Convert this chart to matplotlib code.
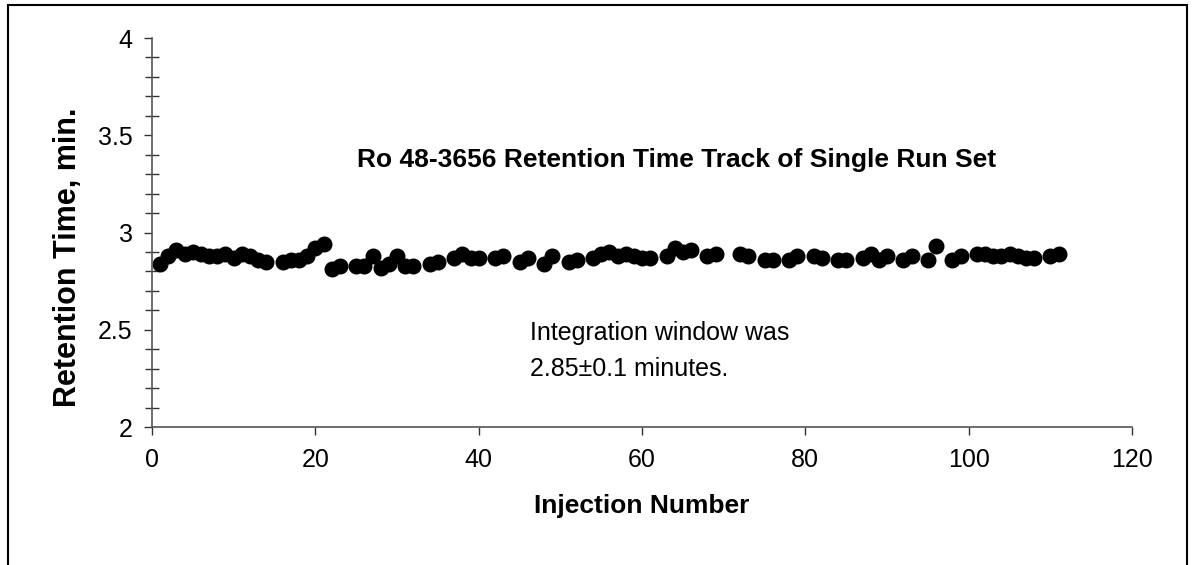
import matplotlib
matplotlib.use("Agg")
import matplotlib.pyplot as plt
from matplotlib.ticker import MultipleLocator
from matplotlib.patches import Rectangle

plt.rcParams['font.family'] = ['Liberation Sans', 'DejaVu Sans']

injection = [1, 2, 3, 4, 5, 6, 7, 8, 9, 10, 11, 12, 13, 14, 16, 17, 18, 19, 20, 21,
             22, 23, 25, 26, 27, 28, 29, 30, 31, 32, 34, 35, 37, 38, 39, 40, 42, 43,
             45, 46, 48, 49, 51, 52, 54, 55, 56, 57, 58, 59, 60, 61, 63, 64, 65, 66,
             68, 69, 72, 73, 75, 76, 78, 79, 81, 82, 84, 85, 87, 88, 89, 90, 92, 93,
             95, 96, 98, 99, 101, 102, 103, 104, 105, 106, 107, 108, 110, 111]
ret_time = [2.84, 2.88, 2.91, 2.89, 2.90, 2.89, 2.88, 2.88, 2.89, 2.87, 2.89, 2.88, 2.86, 2.85,
            2.85, 2.86, 2.86, 2.88, 2.92, 2.94,
            2.81, 2.83, 2.83, 2.83, 2.88, 2.82, 2.84, 2.88, 2.83, 2.83, 2.84, 2.85, 2.87, 2.89,
            2.87, 2.87, 2.87, 2.88,
            2.85, 2.87, 2.84, 2.88, 2.85, 2.86, 2.87, 2.89, 2.90, 2.88, 2.89, 2.88, 2.87, 2.87,
            2.88, 2.92, 2.90, 2.91,
            2.88, 2.89, 2.89, 2.88, 2.86, 2.86, 2.86, 2.88, 2.88, 2.87, 2.86, 2.86, 2.87, 2.89,
            2.86, 2.88, 2.86, 2.88,
            2.86, 2.93, 2.86, 2.88, 2.89, 2.89, 2.88, 2.88, 2.89, 2.88, 2.87, 2.87, 2.88, 2.89]

title = "Ro 48-3656 Retention Time Track of Single Run Set"
note_lines = ["Integration window was", "2.85\u00b10.1 minutes."]
xlabel = "Injection Number"
ylabel = "Retention Time, min."

fig = plt.figure(figsize=(11.94, 5.65), dpi=100)
fig.patches.append(Rectangle((8 / 1194, -0.05), (1187 - 8) / 1194, 1.05 - 5 / 565,
                             transform=fig.transFigure, fill=False,
                             edgecolor='black', linewidth=1.5))
ax = fig.add_axes([0.1273, 0.2442, 0.8208, 0.6885])

ax.plot(injection, ret_time, 'o', color='black', markersize=10.5, clip_on=False)

ax.set_xlim(0, 120)
ax.set_ylim(2, 4)
ax.xaxis.set_major_locator(MultipleLocator(20))
ax.yaxis.set_major_locator(MultipleLocator(0.5))
ax.yaxis.set_minor_locator(MultipleLocator(0.1))
ax.yaxis.set_major_formatter(plt.FuncFormatter(lambda v, p: f"{v:g}"))

for s in ['top', 'right']:
    ax.spines[s].set_visible(False)
for s in ['left', 'bottom']:
    ax.spines[s].set_color('#555555')
    ax.spines[s].set_linewidth(1.2)

ax.tick_params(axis='both', which='major', direction='out', length=6, width=1,
               color='#333333', labelsize=18)
ax.tick_params(axis='x', which='major', pad=9)
ax.tick_params(axis='y', which='major', pad=8)
ax.tick_params(axis='y', which='minor', direction='inout', length=10, width=1,
               color='#333333')

ax.text(0.5, -(494 - 427) / 389, xlabel, transform=ax.transAxes, ha='center', va='top',
        fontsize=19, fontweight='bold')
ax.text((68 - 152) / 980, (427 - 257) / 389, ylabel, transform=ax.transAxes,
        ha='center', va='center', rotation=90, fontsize=22, fontweight='bold')

ax.text(0.535, (427 - 160) / 389, title, transform=ax.transAxes, ha='center', va='center',
        fontsize=19, fontweight='bold')
ax.text(0.386, (427 - 340) / 389, note_lines[0], transform=ax.transAxes, ha='left',
        va='baseline', fontsize=18)
ax.text(0.386, (427 - 376) / 389, note_lines[1], transform=ax.transAxes, ha='left',
        va='baseline', fontsize=18)

fig.savefig("out.png", dpi=100)
